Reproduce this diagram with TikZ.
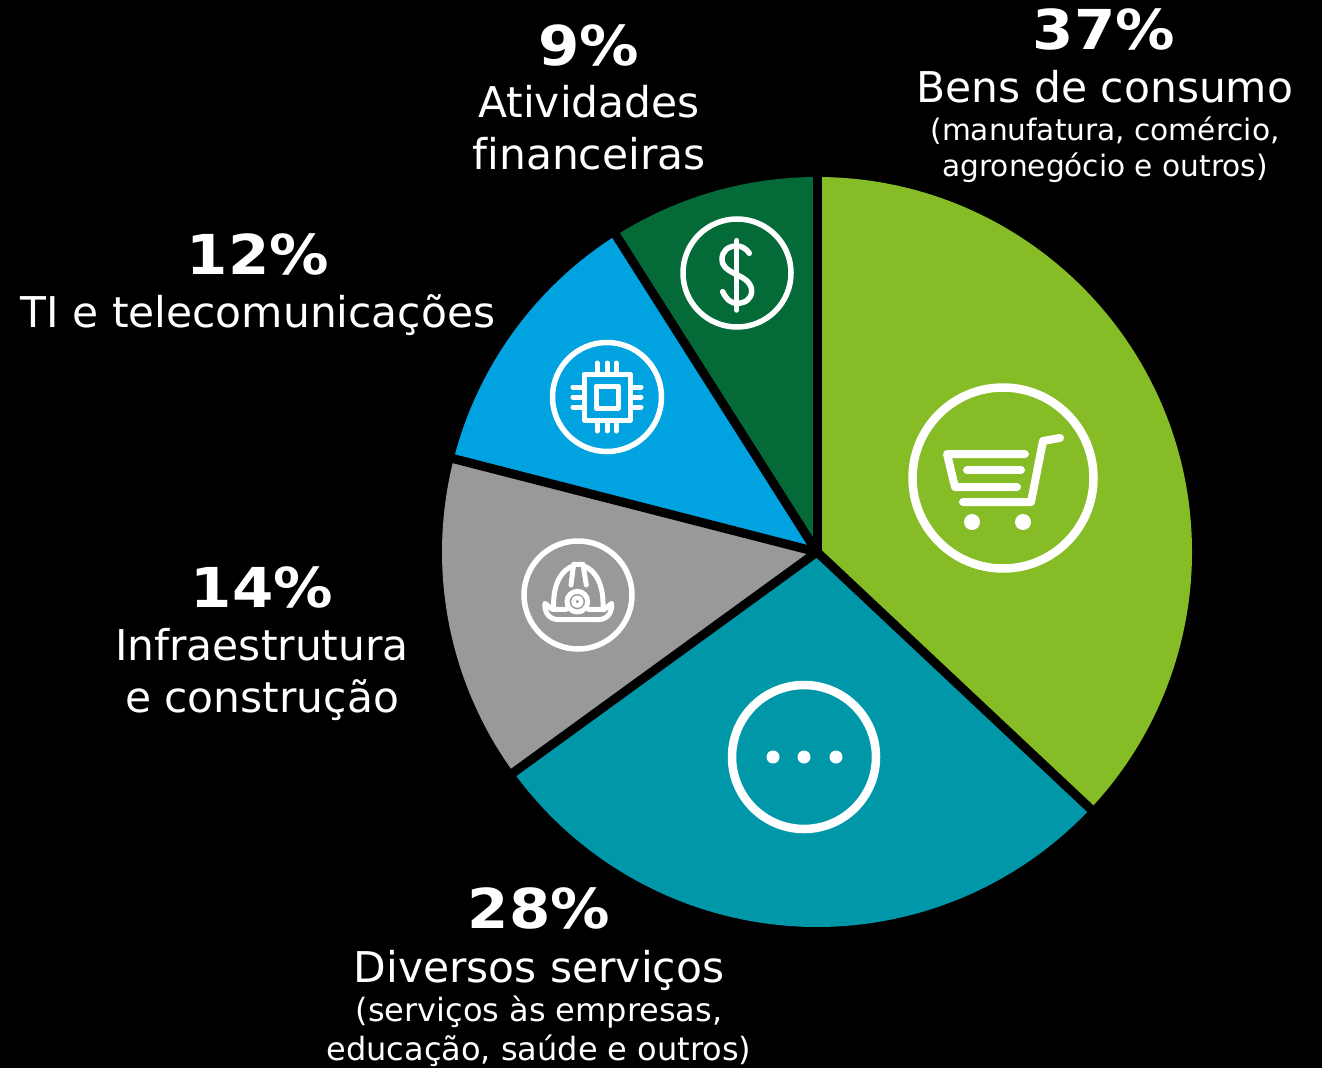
\documentclass[tikz,border=0pt]{standalone}
\usepackage{fontspec}
\setmainfont[Ligatures={NoCommon}]{DejaVu Sans}
\newfontfamily\pctfont[FakeStretch=1.08]{DejaVu Sans Bold}
\definecolor{cgreen}{HTML}{86BC25}
\definecolor{cteal}{HTML}{0097A9}
\definecolor{cgray}{HTML}{97999B}
\definecolor{cblue}{HTML}{00A3E0}
\definecolor{cdark}{HTML}{046A38}
\tikzset{
  pct/.style={text=white,anchor=base,inner sep=0pt,font=\fontsize{55}{55}\selectfont\pctfont},
  big/.style={text=white,anchor=base,inner sep=0pt,font=\fontsize{42.4}{42}\selectfont},
  small/.style={text=white,anchor=base,inner sep=0pt,font=\fontsize{29.6}{30}\selectfont},
  smallb/.style={text=white,anchor=base,inner sep=0pt,font=\fontsize{32}{32}\selectfont},
  ring/.style={draw=white,line width=8.5pt},
  thinring/.style={draw=white,line width=5.5pt},
  ico/.style={draw=white,line cap=round,line join=round},
  sep/.style={draw=black,line width=9pt}
}
\begin{document}
\begin{tikzpicture}[x=1pt,y=-1pt]
\path[use as bounding box,fill=black] (0,0) rectangle (1322,1068);
\coordinate (c) at (817,552);
% sectors (angles measured clockwise from the top)
\foreach \a/\b/\col in {0/133.2/cgreen,133.2/234/cteal,234/284.4/cgray,284.4/327.6/cblue,327.6/360/cdark}{
  \fill[\col] (c) -- ++({90-\a}:375pt) arc[start angle={90-\a},end angle={90-\b},radius=375pt] -- cycle;
}
\foreach \a in {0,133.2,234,284.4,327.6}{
  \draw[sep] (c) -- ++({90-\a}:377pt);
}
% cart
\draw[ring] (1003,478) circle[radius=90.5];
\draw[ico,line width=8pt] (1060,438) -- (1043,441) -- (1031,502) -- (963,502);
\draw[ico,line width=8pt] (1025,454) -- (947,454) -- (955,487) -- (1017,487);
\draw[ico,line width=8pt] (967,470) -- (1021,470);
\fill[white] (972,522) circle[radius=8] (1023,522) circle[radius=8];
% dots
\draw[ring] (804,757) circle[radius=72];
\fill[white] (773,757) circle[radius=6.5] (804,757) circle[radius=6.5] (836,757) circle[radius=6.5];
% chip
\draw[thinring] (607,397) circle[radius=54.5];
\draw[ico,line width=5pt] (584,374) rectangle (630,420);
\draw[ico,line width=5pt] (596,386) rectangle (618,408);
\foreach \p in {597,607,616}{
  \draw[ico,line width=5pt] (\p,363) -- (\p,372);
  \draw[ico,line width=5pt] (\p,422) -- (\p,431);
}
\foreach \p in {387,397,407}{
  \draw[ico,line width=5pt] (573,\p) -- (582,\p);
  \draw[ico,line width=5pt] (632,\p) -- (641,\p);
}
% helmet
\draw[thinring] (578,595) circle[radius=54];
\begin{scope}[shift={(515,530)},x=0.3333pt,y=-0.3333pt]
\draw[ico,line width=5pt] (154,238) -- (112,238) -- (90,220) .. controls (88,245) and (100,268) .. (130,269) -- (250,269) .. controls (280,268) and (292,245) .. (290,220) -- (268,238) -- (220,238);
\draw[ico,line width=5pt] (116,228) .. controls (114,165) and (138,120) .. (174,108);
\draw[ico,line width=5pt] (264,228) .. controls (266,165) and (242,120) .. (206,108);
\draw[ico,line width=5pt] (168,165) -- (176,103) -- (204,103) -- (214,165);
\draw[ico,line width=5pt] (187,215) circle[radius=31];
\draw[ico,line width=4.5pt] (187,215) circle[radius=12];
\end{scope}
% dollar
\draw[thinring] (737,273) circle[radius=54];
\begin{scope}[shift={(670,210)},x=0.3333pt,y=-0.3333pt]
\draw[ico,line width=5.5pt] (200,92) -- (200,300);
\draw[ico,line width=5.5pt] (238,130) .. controls (225,112) and (212,108) .. (200,108) .. controls (172,108) and (156,125) .. (156,148) .. controls (156,172) and (180,184) .. (200,194) .. controls (222,204) and (245,218) .. (245,243) .. controls (245,265) and (228,280) .. (200,280) .. controls (185,280) and (170,270) .. (158,245);
\end{scope}
% labels
\node[pct] (p37) at (1104,49) {37\%};
\node[big] (t37) at (1105,102) {Bens de consumo};
\node[small] (s37a) at (1105,140) {(manufatura, comércio,};
\node[small] (s37b) at (1105,176) {agronegócio e outros)};
\node[pct] (p9) at (589,65) {9\%};
\node[big] (t9a) at (589,117) {Atividades};
\node[big] (t9b) at (589,169) {financeiras};
\node[pct] (p12) at (258,274) {12\%};
\node[big] (t12) at (258,327) {TI e telecomunicações};
\node[pct] (p14) at (262,607) {14\%};
\node[big] (t14a) at (262,660) {Infraestrutura};
\node[big] (t14b) at (262,712) {e construção};
\node[pct] (p28) at (539,928) {28\%};
\node[big] (t28) at (539,982) {Diversos serviços};
\node[smallb] (s28a) at (539,1021) {(serviços às empresas,};
\node[smallb] (s28b) at (539,1060) {educação, saúde e outros)};
\end{tikzpicture}
\end{document}
